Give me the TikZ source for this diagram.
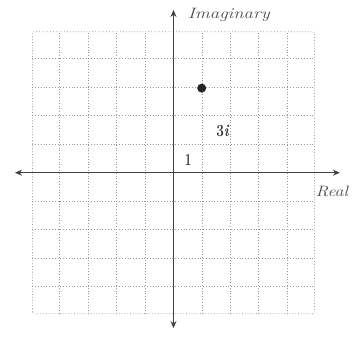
\documentclass[tikz,border=0pt]{standalone}
\usetikzlibrary{arrows.meta}
\begin{document}
\begin{tikzpicture}[x=28.2pt,y=28.2pt,
  gridline/.style={draw=black!40, line width=0.8pt, dotted},
  axis/.style={draw=black!75, line width=1pt, {Stealth[length=7pt,width=6pt]}-{Stealth[length=7pt,width=6pt]}},
  axlabel/.style={font=\fontsize{15}{17}\selectfont\itshape, text=black!70, inner sep=0pt},
  hand/.style={font=\fontsize{17}{19}\selectfont\bfseries, text=black!80, inner sep=0pt}]
\useasboundingbox (-6.152,-5.826) rectangle (6.330,6.124);
\draw[gridline] (-5,-5) grid (5,5);
\draw[gridline, rounded corners=2pt] (-5,-5) rectangle (5,5);
\coordinate (xl) at (-5.62,0);
\coordinate (xr) at (5.90,0);
\coordinate (yt) at (0,5.77);
\coordinate (yb) at (0,-5.51);
\draw[axis] (xl) -- (xr);
\draw[axis] (yb) -- (yt);
\fill[black!85] (1,3) circle (4.5pt);
\node[axlabel, anchor=west, xscale=1.25] (im) at (0.5,5.59) {Imaginary};
\node[axlabel, anchor=west, xscale=1.2] (re) at (5.03,-0.68) {Real};
\node[hand, xscale=0.8] (three) at (1.75,1.5) {3\textit{i}};
\node[hand, xscale=0.7] (one) at (0.52,0.45) {1};
\end{tikzpicture}
\end{document}
